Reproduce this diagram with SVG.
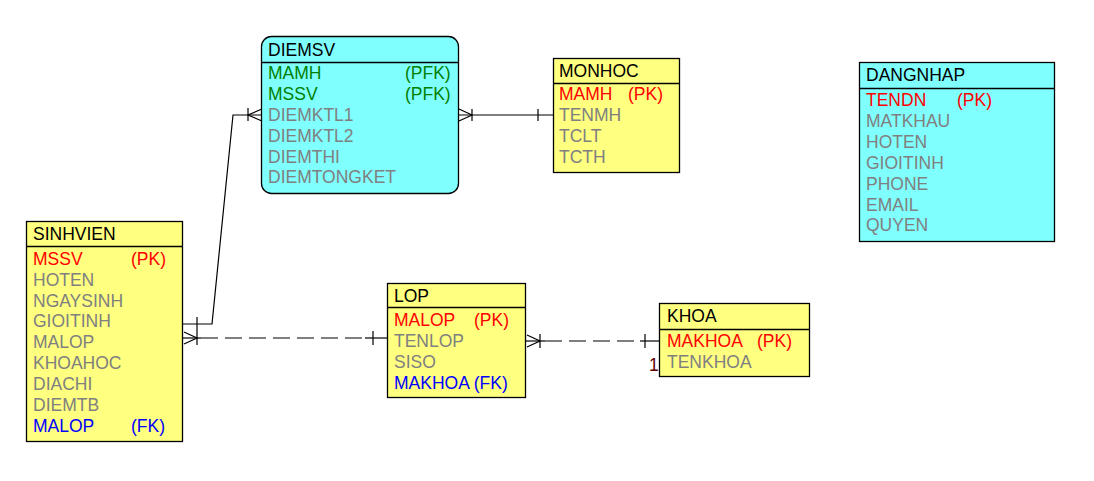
<svg xmlns="http://www.w3.org/2000/svg" width="1094" height="481" viewBox="0 0 1094 481">
<style>
text{font-family:"Liberation Sans",Arial,sans-serif;font-size:17.5px}
.cy{fill:#80FFFF;stroke:#000;stroke-width:1.3}
.ye{fill:#FFFF80;stroke:#000;stroke-width:1.3}
.sep{stroke:#000;stroke-width:1.3}
.t{fill:#000}
.pk{fill:#FF0000}
.pf{fill:#008000}
.at{fill:#808080}
.fk{fill:#0000FF}
.ln{fill:none;stroke:#000;stroke-width:1.2}
.dl{fill:none;stroke:#000;stroke-width:1.2;stroke-dasharray:17 7}
</style>
<rect width="1094" height="481" fill="#fff"/>
<g id="connectors">
  <!-- SINHVIEN - DIEMSV -->
  <path class="ln" d="M182,324 H212 L233,115 H262"/>
  <path class="ln" d="M197,317 V331"/>
  <path class="ln" d="M248,108 V121 M262,109 L248,115 L262,121"/>
  <!-- DIEMSV - MONHOC -->
  <path class="ln" d="M458,115 H553"/>
  <path class="ln" d="M459,109 L472,115 L459,121 M472,109 V121 M538,109 V121"/>
  <!-- SINHVIEN - LOP -->
  <path class="ln" d="M182,338 H201"/>
  <path class="dl" d="M201,338 H365"/>
  <path class="ln" d="M365,338 H387"/>
  <path class="ln" d="M184,332 L197,338 L184,344 M197,331 V345 M373,331 V345"/>
  <!-- LOP - KHOA -->
  <path class="ln" d="M525,341 H545"/>
  <path class="dl" d="M545,341 H640"/>
  <path class="ln" d="M640,341 H659"/>
  <path class="ln" d="M527,335 L540,341 L527,347 M540,334 V348 M645,334 V348"/>
  <text x="649" y="371" fill="#600000">1</text>
</g>
<g id="DIEMSV">
  <rect class="cy" x="261.5" y="36.5" width="197" height="157" rx="10"/>
  <line class="sep" x1="261.5" y1="62.5" x2="458.5" y2="62.5"/>
  <text class="t" x="268" y="56">DIEMSV</text>
  <text class="pf" x="268" y="79">MAMH</text><text class="pf" x="405" y="79">(PFK)</text>
  <text class="pf" x="268" y="100">MSSV</text><text class="pf" x="405" y="100">(PFK)</text>
  <text class="at" x="268" y="121">DIEMKTL1</text>
  <text class="at" x="268" y="141.5">DIEMKTL2</text>
  <text class="at" x="268" y="162.5">DIEMTHI</text>
  <text class="at" x="268" y="183">DIEMTONGKET</text>
</g>
<g id="MONHOC">
  <rect class="ye" x="553.5" y="58.5" width="126" height="114"/>
  <line class="sep" x1="553.5" y1="83.5" x2="679.5" y2="83.5"/>
  <text class="t" x="559" y="77">MONHOC</text>
  <text class="pk" x="559" y="100">MAMH</text><text class="pk" x="628" y="100">(PK)</text>
  <text class="at" x="559" y="121">TENMH</text>
  <text class="at" x="559" y="142">TCLT</text>
  <text class="at" x="559" y="162.5">TCTH</text>
</g>
<g id="DANGNHAP">
  <rect class="cy" x="859.5" y="62.5" width="195" height="179"/>
  <line class="sep" x1="859.5" y1="88.5" x2="1054.5" y2="88.5"/>
  <text class="t" x="866" y="81">DANGNHAP</text>
  <text class="pk" x="866" y="105.5">TENDN</text><text class="pk" x="957" y="105.5">(PK)</text>
  <text class="at" x="866" y="126.5">MATKHAU</text>
  <text class="at" x="866" y="147.5">HOTEN</text>
  <text class="at" x="866" y="168.5">GIOITINH</text>
  <text class="at" x="866" y="189.5">PHONE</text>
  <text class="at" x="866" y="210.5">EMAIL</text>
  <text class="at" x="866" y="231">QUYEN</text>
</g>
<g id="SINHVIEN">
  <rect class="ye" x="26.5" y="221.5" width="156" height="220"/>
  <line class="sep" x1="26.5" y1="246.5" x2="182.5" y2="246.5"/>
  <text class="t" x="33" y="240">SINHVIEN</text>
  <text class="pk" x="33" y="265">MSSV</text><text class="pk" x="131" y="265">(PK)</text>
  <text class="at" x="33" y="285.8">HOTEN</text>
  <text class="at" x="33" y="306.6">NGAYSINH</text>
  <text class="at" x="33" y="327.4">GIOITINH</text>
  <text class="at" x="33" y="348.2">MALOP</text>
  <text class="at" x="33" y="369">KHOAHOC</text>
  <text class="at" x="33" y="389.8">DIACHI</text>
  <text class="at" x="33" y="410.6">DIEMTB</text>
  <text class="fk" x="33" y="431.5">MALOP</text><text class="fk" x="131" y="431.5">(FK)</text>
</g>
<g id="LOP">
  <rect class="ye" x="387.5" y="283.5" width="138" height="114"/>
  <line class="sep" x1="387.5" y1="307.5" x2="525.5" y2="307.5"/>
  <text class="t" x="394" y="301.5">LOP</text>
  <text class="pk" x="394" y="325.5">MALOP</text><text class="pk" x="474" y="325.5">(PK)</text>
  <text class="at" x="394" y="346.5">TENLOP</text>
  <text class="at" x="394" y="367.5">SISO</text>
  <text class="fk" x="394" y="388.5">MAKHOA (FK)</text>
</g>
<g id="KHOA">
  <rect class="ye" x="659.5" y="303.5" width="150" height="73"/>
  <line class="sep" x1="659.5" y1="329.5" x2="809.5" y2="329.5"/>
  <text class="t" x="667" y="322">KHOA</text>
  <text class="pk" x="667" y="346.5">MAKHOA</text><text class="pk" x="757" y="346.5">(PK)</text>
  <text class="at" x="667" y="367.5">TENKHOA</text>
</g>
</svg>
